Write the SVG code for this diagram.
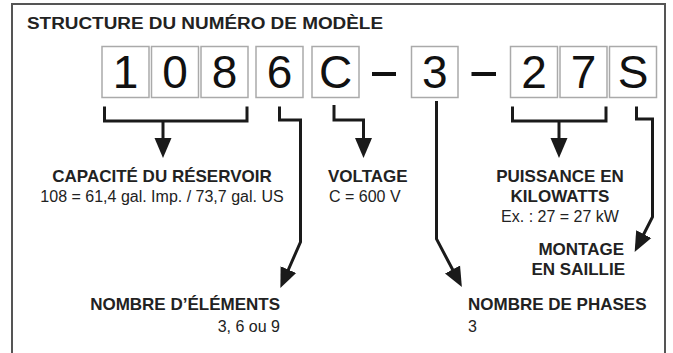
<svg xmlns="http://www.w3.org/2000/svg" width="673" height="353" viewBox="0 0 673 353">
<style>
.frame{fill:none;stroke:#555;stroke-width:2}
.box{fill:#fff;stroke:#aaa;stroke-width:1.5}
.dig{font-family:"Liberation Sans",Arial,sans-serif;font-size:46px;fill:#111;text-anchor:middle}
.dash{fill:#111}
.con{fill:none;stroke:#1a1a1a;stroke-width:3;stroke-linejoin:miter}
.b{font-family:"Liberation Sans",Arial,sans-serif;font-size:17px;font-weight:bold;fill:#222}
.r{font-family:"Liberation Sans",Arial,sans-serif;font-size:16px;fill:#222}
.title{font-family:"Liberation Sans",Arial,sans-serif;font-size:16px;font-weight:bold;fill:#222}
.m{text-anchor:middle}
.e{text-anchor:end}
</style>
<defs>
<marker id="ah" viewBox="0 -9 20 18" markerWidth="20" markerHeight="18" refX="1" refY="0" orient="auto" markerUnits="userSpaceOnUse">
<path d="M0,-8.5 L20,0 L0,8.5 z" fill="#1a1a1a"/>
</marker>
</defs>
<rect width="673" height="353" fill="#fff"/>
<path class="frame" d="M12,353 V4 H665 V353"/>
<text id="title" class="title" x="27" y="28.5" textLength="356" lengthAdjust="spacingAndGlyphs">STRUCTURE DU NUMÉRO DE MODÈLE</text>

<g id="code">
<g id="d1"><rect class="box" x="102" y="46.5" width="47" height="51"/><text class="dig" x="125.5" y="88">1</text></g>
<g id="d2"><rect class="box" x="151.5" y="46.5" width="47" height="51"/><text class="dig" x="175" y="88">0</text></g>
<g id="d3"><rect class="box" x="201" y="46.5" width="47" height="51"/><text class="dig" x="224.5" y="88">8</text></g>
<g id="d4"><rect class="box" x="256" y="46.5" width="47" height="51"/><text class="dig" x="279.5" y="88">6</text></g>
<g id="d5"><rect class="box" x="312" y="46.5" width="47" height="51"/><text class="dig" x="335.5" y="88">C</text></g>
<rect class="dash" x="372" y="72" width="24" height="4"/>
<g id="d6"><rect class="box" x="411.5" y="46.5" width="46.5" height="51"/><text class="dig" x="434.8" y="88">3</text></g>
<rect class="dash" x="471.5" y="72" width="24.5" height="4"/>
<g id="d7"><rect class="box" x="510.5" y="46.5" width="47" height="51"/><text class="dig" x="534" y="88">2</text></g>
<g id="d8"><rect class="box" x="560" y="46.5" width="47" height="51"/><text class="dig" x="583.5" y="88">7</text></g>
<g id="d9"><rect class="box" x="609.5" y="46.5" width="47" height="51"/><text class="dig" x="633" y="88">S</text></g>
</g>

<g id="connectors">
<path class="con" d="M104.5,106.5 V121 H247 V106.5"/>
<path class="con" d="M163,121 V139" marker-end="url(#ah)"/>
<path class="con" d="M279.5,106.5 V120 H300.5 V242 L288,270.5" marker-end="url(#ah)"/>
<path class="con" d="M334,105 V120 H363.5 V139" marker-end="url(#ah)"/>
<path class="con" d="M436.5,101 V239 L453,270.3" marker-end="url(#ah)"/>
<path class="con" d="M512.5,106.5 V121 H606 V106.5"/>
<path class="con" d="M559,121 V139" marker-end="url(#ah)"/>
<path class="con" d="M636.5,106.5 V119 H652.5 V217 L643.3,235" marker-end="url(#ah)"/>
</g>

<g id="capacite">
<text class="b m" x="162" y="182">CAPACITÉ DU RÉSERVOIR</text>
<text class="r m" x="162" y="202">108 = 61,4 gal. Imp. / 73,7 gal. US</text>
</g>
<g id="voltage">
<text class="b" x="328" y="182">VOLTAGE</text>
<text class="r" x="329" y="202">C = 600 V</text>
</g>
<g id="puissance">
<text class="b m" x="560" y="182">PUISSANCE EN</text>
<text class="b m" x="560" y="202">KILOWATTS</text>
<text class="r m" x="560" y="222">Ex. : 27 = 27 kW</text>
</g>
<g id="montage">
<text class="b e" x="624" y="255">MONTAGE</text>
<text class="b e" x="625" y="275">EN SAILLIE</text>
</g>
<g id="elements">
<text class="b e" x="280" y="310">NOMBRE D’ÉLÉMENTS</text>
<text class="r e" x="280" y="332">3, 6 ou 9</text>
</g>
<g id="phases">
<text class="b" x="468" y="310">NOMBRE DE PHASES</text>
<text class="r" x="468" y="332">3</text>
</g>
</svg>
